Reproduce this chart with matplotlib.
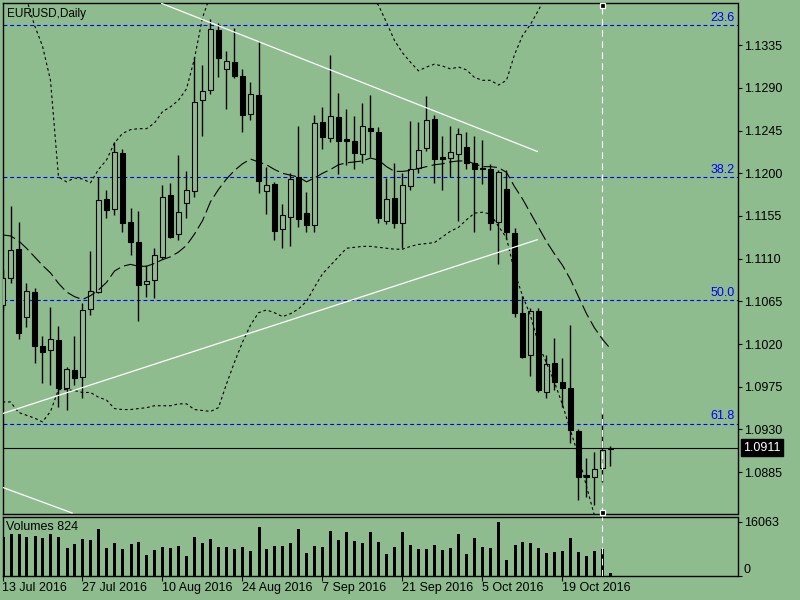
import matplotlib
matplotlib.use("Agg")
import matplotlib.pyplot as plt
import matplotlib.transforms as mtransforms
import numpy as np

plt.rcParams['font.family'] = ['Liberation Sans', 'DejaVu Sans']

# ---------------- data ----------------
chart_title = "EURUSD,Daily"
volume_title = "Volumes 824"
date_labels = ["13 Jul 2016", "27 Jul 2016", "10 Aug 2016", "24 Aug 2016",
               "7 Sep 2016", "21 Sep 2016", "5 Oct 2016", "19 Oct 2016"]
date_label_bars = [0, 10, 20, 30, 40, 50, 60, 70]

opens = [1.1061, 1.1090, 1.1120, 1.1049, 1.1075, 1.1018, 1.1014, 1.1024, 1.0974, 1.0993,
         1.0985, 1.1057, 1.1075, 1.1173, 1.1162, 1.1221, 1.1149, 1.1128, 1.1083, 1.1088,
         1.1112, 1.1177, 1.1136, 1.1169, 1.1181, 1.1277, 1.1288, 1.1351, 1.1310, 1.1317,
         1.1303, 1.1263, 1.1282, 1.1181, 1.1189, 1.1141, 1.1154, 1.1196, 1.1158, 1.1146,
         1.1254, 1.1237, 1.1259, 1.1236, 1.1234, 1.1220, 1.1248, 1.1243, 1.1150, 1.1174,
         1.1148, 1.1187, 1.1206, 1.1227, 1.1257, 1.1217, 1.1216, 1.1220, 1.1228, 1.1211,
         1.1206, 1.1204, 1.1149, 1.1183, 1.1137, 1.1053, 1.1008, 1.1055, 1.0969, 1.1000,
         1.0980, 1.0974, 1.0928, 1.0882, 1.0880, 1.0889, 1.0909]
highs = [1.1098, 1.1166, 1.1149, 1.1084, 1.1079, 1.1029, 1.1059, 1.1039, 1.0996, 1.1029,
         1.1063, 1.1118, 1.1196, 1.1182, 1.1233, 1.1226, 1.1163, 1.1160, 1.1103, 1.1121,
         1.1188, 1.1190, 1.1219, 1.1202, 1.1323, 1.1314, 1.1363, 1.1358, 1.1329, 1.1353,
         1.1310, 1.1296, 1.1339, 1.1207, 1.1191, 1.1168, 1.1200, 1.1250, 1.1180, 1.1261,
         1.1270, 1.1325, 1.1285, 1.1268, 1.1260, 1.1274, 1.1283, 1.1249, 1.1195, 1.1211,
         1.1200, 1.1255, 1.1254, 1.1281, 1.1261, 1.1239, 1.1250, 1.1248, 1.1244, 1.1239,
         1.1235, 1.1210, 1.1203, 1.1203, 1.1142, 1.1071, 1.1058, 1.1058, 1.1008, 1.1026,
         1.1005, 1.1040, 1.0930, 1.0900, 1.0906, 1.0947, 1.0913]
lows = [1.1056, 1.1084, 1.1025, 1.1038, 1.1000, 1.0979, 1.0977, 1.0954, 1.0951, 1.0977,
        1.0963, 1.1051, 1.1074, 1.1153, 1.1156, 1.1138, 1.1114, 1.1044, 1.1070, 1.1069,
        1.1110, 1.1132, 1.1130, 1.1153, 1.1175, 1.1239, 1.1284, 1.1302, 1.1268, 1.1300,
        1.1243, 1.1256, 1.1179, 1.1157, 1.1130, 1.1121, 1.1123, 1.1143, 1.1138, 1.1138,
        1.1226, 1.1233, 1.1199, 1.1209, 1.1204, 1.1211, 1.1217, 1.1148, 1.1147, 1.1142,
        1.1121, 1.1182, 1.1200, 1.1223, 1.1190, 1.1182, 1.1196, 1.1150, 1.1205, 1.1138,
        1.1189, 1.1140, 1.1104, 1.1131, 1.1049, 1.1005, 1.0986, 1.0970, 1.0963, 1.0972,
        1.0954, 1.0916, 1.0856, 1.0859, 1.0850, 1.0875, 1.0891]
closes = [1.1090, 1.1119, 1.1032, 1.1076, 1.1018, 1.1012, 1.1025, 1.0974, 1.0994, 1.0984,
          1.1056, 1.1076, 1.1172, 1.1161, 1.1222, 1.1148, 1.1128, 1.1082, 1.1086, 1.1114,
          1.1175, 1.1133, 1.1159, 1.1182, 1.1275, 1.1287, 1.1352, 1.1322, 1.1318, 1.1303,
          1.1261, 1.1284, 1.1192, 1.1188, 1.1139, 1.1156, 1.1194, 1.1152, 1.1145, 1.1253,
          1.1238, 1.1260, 1.1234, 1.1234, 1.1221, 1.1250, 1.1245, 1.1153, 1.1173, 1.1148,
          1.1188, 1.1205, 1.1225, 1.1256, 1.1215, 1.1215, 1.1222, 1.1241, 1.1211, 1.1205,
          1.1204, 1.1148, 1.1201, 1.1138, 1.1053, 1.1006, 1.1055, 1.0972, 1.0999, 1.0980,
          1.0974, 1.0929, 1.0880, 1.0880, 1.0888, 1.0908, 1.0911]
volumes = [11500, 12500, 12500, 11700, 11900, 11300, 12500, 11700, 8230, 9520,
           10900, 10700, 13900, 8230, 9720, 7940, 9520, 10000, 6250, 7740,
           8530, 8230, 8930, 5950, 11500, 9720, 10900, 8530, 8530, 7940,
           8530, 7440, 14700, 7940, 8930, 8930, 9720, 13900, 6750, 8930,
           8730, 13400, 10700, 13100, 10400, 9820, 13100, 10100, 6550, 8630,
           13100, 9230, 8040, 8040, 9230, 7740, 8330, 12500, 6550, 11300,
           8630, 8330, 16063, 4760, 9230, 10100, 9820, 8330, 6850, 7140,
           7440, 11300, 7140, 5950, 7440, 8040, 824]
band_upper = [1.1446, 1.1425, 1.1404, 1.1384, 1.1356, 1.1334, 1.1298, 1.1196, 1.1191, 1.1195,
              1.1194, 1.1190, 1.1204, 1.1214, 1.1232, 1.1242, 1.1246, 1.1247, 1.1247, 1.1253,
              1.1265, 1.1270, 1.1277, 1.1289, 1.1321, 1.1364, 1.1388, 1.1404, 1.1419, 1.1435,
              1.1446, 1.1451, 1.1448, 1.1444, 1.1437, 1.1433, 1.1430, 1.1425, 1.1423, 1.1421,
              1.1418, 1.1414, 1.1409, 1.1404, 1.1398, 1.1393, 1.1388, 1.1377, 1.1359, 1.1340,
              1.1327, 1.1317, 1.1308, 1.1312, 1.1315, 1.1313, 1.1310, 1.1312, 1.1309, 1.1301,
              1.1298, 1.1298, 1.1293, 1.1298, 1.1325, 1.1345, 1.1357, 1.1372, 1.1388, 1.1404,
              1.1419, 1.1435, 1.1451, 1.1467, 1.1477, 1.1488, 1.1493]
band_mid = [1.1135, 1.1134, 1.1129, 1.1121, 1.1112, 1.1103, 1.1095, 1.1084, 1.1075, 1.1070,
            1.1067, 1.1071, 1.1077, 1.1085, 1.1097, 1.1102, 1.1104, 1.1102, 1.1102, 1.1105,
            1.1109, 1.1112, 1.1117, 1.1124, 1.1136, 1.1150, 1.1170, 1.1183, 1.1194, 1.1203,
            1.1210, 1.1215, 1.1212, 1.1209, 1.1204, 1.1200, 1.1198, 1.1196, 1.1191, 1.1195,
            1.1200, 1.1204, 1.1209, 1.1211, 1.1212, 1.1213, 1.1216, 1.1214, 1.1207, 1.1202,
            1.1202, 1.1203, 1.1205, 1.1207, 1.1209, 1.1210, 1.1212, 1.1213, 1.1213, 1.1210,
            1.1207, 1.1207, 1.1206, 1.1201, 1.1186, 1.1173, 1.1158, 1.1143, 1.1128, 1.1115,
            1.1103, 1.1088, 1.1070, 1.1052, 1.1037, 1.1025, 1.1015]
band_lower = [1.0959, 1.0959, 1.0948, 1.0945, 1.0942, 1.0938, 1.0949, 1.0972, 1.0972, 1.0971,
              1.0969, 1.0969, 1.0964, 1.0961, 1.0952, 1.0951, 1.0951, 1.0952, 1.0953, 1.0955,
              1.0955, 1.0955, 1.0957, 1.0957, 1.0951, 1.0950, 1.0949, 1.0953, 1.0978, 1.1001,
              1.1022, 1.1040, 1.1053, 1.1056, 1.1053, 1.1049, 1.1052, 1.1057, 1.1065, 1.1080,
              1.1094, 1.1103, 1.1112, 1.1121, 1.1122, 1.1123, 1.1123, 1.1122, 1.1121, 1.1120,
              1.1120, 1.1123, 1.1125, 1.1126, 1.1127, 1.1133, 1.1139, 1.1143, 1.1151, 1.1158,
              1.1159, 1.1157, 1.1144, 1.1132, 1.1096, 1.1071, 1.1050, 1.1020, 1.1000, 1.0980,
              1.0956, 1.0929, 1.0902, 1.0870, 1.0839, 1.0813, 1.0792]
fib_levels = [1.1356, 1.1196, 1.1066, 1.0936]
fib_labels = ["23.6", "38.2", "50.0", "61.8"]
fib_line_bar = 75
price_ticks = [1.0885, 1.0930, 1.0975, 1.1020, 1.1065, 1.1110, 1.1155, 1.1200, 1.1245, 1.1290, 1.1335]
last_price = 1.0911
volume_ticks = [0, 16063]
trend_upper_bars, trend_upper_prices = [19.9, 66.85], [1.1379, 1.1223]
trend_lower_bars, trend_lower_prices = [0.1, 66.85], [1.0947, 1.1130]
trend_small_bars, trend_small_prices = [0.0, 8.7], [1.0869, 1.0842]

# ---------------- layout ----------------
BG = '#8FBC8F'
W, H = 800, 600
fig = plt.figure(figsize=(8, 6), dpi=100, facecolor=BG)
ax = fig.add_axes([2.5 / W, 1 - 514.3 / H, 735 / W, (514.3 - 2.5) / H])
vax = fig.add_axes([2.5 / W, 1 - 576 / H, 735 / W, (576 - 516.7) / H])
for a in (ax, vax):
    a.set_facecolor(BG)
    for s in a.spines.values():
        s.set_linewidth(1.0)
        s.set_color('black')
    a.set_xlim(0, 735 / 8)

ax.set_ylim(1.08406, 1.13800)
vax.set_ylim(0, 16063 * 59.3 / 54)

bars = np.arange(len(opens))
o = np.array(opens); h = np.array(highs); l = np.array(lows); c = np.array(closes)

# bands / moving average
ax.plot(bars, band_upper, color='black', lw=0.8, ls=(0, (2.5, 2.5)), zorder=4)
ax.plot(bars, band_lower, color='black', lw=0.8, ls=(0, (2.5, 2.5)), zorder=4)
ax.plot(bars, band_mid, color='black', lw=0.8, ls=(0, (12, 4)), zorder=4)

# fib levels
for lev, lab in zip(fib_levels, fib_labels):
    ax.axhline(lev, color='#0000FF', lw=0.8, ls=(0, (3.5, 2.5)), zorder=1.5)
    ax.annotate(lab, xy=(1, lev), xycoords=('axes fraction', 'data'),
                xytext=(-2, 1), textcoords='offset points',
                ha='right', va='bottom', color='#0000FF', fontsize=9)

# current price line
ax.axhline(last_price, color='black', lw=0.8, zorder=1.6)

# candles
ax.vlines(bars, l, h, color='black', lw=1.0, zorder=2)
up = c >= o
bot = np.minimum(o, c)
hgt = np.maximum(np.abs(c - o), 0.00003)
ax.bar(bars[up], hgt[up], bottom=bot[up], width=0.6, facecolor=BG,
       edgecolor='black', lw=0.8, zorder=3)
ax.bar(bars[~up], hgt[~up], bottom=bot[~up], width=0.6, facecolor='black',
       edgecolor='black', lw=0.8, zorder=3)

# trend lines
for tx, ty in ((trend_upper_bars, trend_upper_prices),
               (trend_lower_bars, trend_lower_prices),
               (trend_small_bars, trend_small_prices)):
    ax.plot(tx, ty, color='white', lw=0.9, zorder=5)

# fib vertical line with anchors
for a in (ax, vax):
    a.axvline(fib_line_bar, color='white', lw=0.8, ls=(0, (6, 4)), zorder=5)
btrans = mtransforms.blended_transform_factory(ax.transData, ax.transAxes)
ax.plot([fib_line_bar, fib_line_bar], [0.995, 0.0045], ls='none', marker='s', ms=3.6,
        mfc='black', mec='white', mew=0.9, transform=btrans, zorder=6, clip_on=False)

# volumes
vax.vlines(bars, 0, volumes, color='black', lw=1.0, antialiased=False)

# axes ticks
ax.tick_params(axis='x', bottom=False, labelbottom=False)
ax.yaxis.tick_right()
ax.set_yticks(price_ticks)
ax.set_yticklabels([f"{p:.4f}" for p in price_ticks])
ax.tick_params(axis='y', direction='out', length=2.9, width=0.8, pad=1.5,
               labelsize=9, colors='black')

vax.yaxis.tick_right()
vax.set_yticks(volume_ticks)
vax.set_yticklabels([str(v) for v in volume_ticks])
vax.tick_params(axis='y', direction='out', length=2.9, width=0.8, pad=1.5, labelsize=9)
vax.get_yticklabels()[0].set_va('bottom')
vax.set_xticks(date_label_bars)
vax.set_xticklabels(date_labels)
vax.tick_params(axis='x', direction='out', length=3.4, width=0.8, pad=1, labelsize=9)
for t in vax.get_xticklabels():
    t.set_ha('left')

# price box
ptrans = mtransforms.blended_transform_factory(ax.transAxes, ax.transData)
ax.text(1.0075, last_price, f"{last_price:.4f}", transform=ptrans, ha='left', va='center',
        color='white', fontsize=9, zorder=7,
        bbox=dict(boxstyle='square,pad=0.18', fc='black', ec='black'))

# titles
ax.text(0.0061, 0.99, chart_title, transform=ax.transAxes, ha='left', va='top',
        fontsize=8.5, color='black')
vax.text(0.005, 0.93, volume_title, transform=vax.transAxes, ha='left', va='top',
         fontsize=9, color='black')

fig.savefig('out.png', dpi=100, facecolor=BG)
